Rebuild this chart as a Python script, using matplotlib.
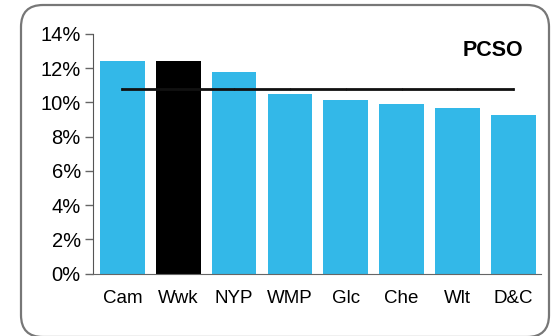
import matplotlib
matplotlib.use("Agg")
import matplotlib.pyplot as plt
from matplotlib.patches import FancyBboxPatch
from matplotlib.transforms import IdentityTransform
from matplotlib.ticker import FuncFormatter

# data
areas = ["Cam", "Wwk", "NYP", "WMP", "Glc", "Che", "Wlt", "D&C"]
rates = [12.42, 12.42, 11.78, 10.5, 10.15, 9.91, 9.68, 9.27]
average = 10.77
highlight = "Wwk"

plt.rcParams['font.family'] = ['Liberation Sans', 'DejaVu Sans']

fig = plt.figure(figsize=(5.53, 3.36), dpi=100)
ax = fig.add_axes([0.1687, 0.186, 0.809, 0.713])

colors = ['#000000' if a == highlight else '#33b8e8' for a in areas]
x = range(len(areas))
ax.bar(x, rates, width=0.8, color=colors, zorder=2)
ax.plot(x, [average] * len(areas), color='#111111', lw=2, zorder=3,
        marker='|', markersize=2, markeredgewidth=0.8)

ax.set_xlim(-0.52, 7.49)
ax.set_ylim(0, 14)
ax.set_yticks(range(0, 15, 2))
ax.yaxis.set_major_formatter(FuncFormatter(lambda v, p: f"{v:.0f}%"))
ax.set_xticks(list(x))
ax.set_xticklabels(areas, fontsize=13.5)
ax.tick_params(axis='y', labelsize=14.5, length=6, width=1, color='#666666', pad=3)
ax.tick_params(axis='x', length=0, pad=12)

for side in ['top', 'right']:
    ax.spines[side].set_visible(False)
ax.spines['left'].set_color('#555555')
ax.spines['bottom'].set_color('#666666')

ax.text(0.962, 0.93, "PCSO", transform=ax.transAxes, ha='right', va='center',
        fontsize=15.5, fontweight='bold')

# rounded frame round the whole chart
frame = FancyBboxPatch((21, -1), 528, 332, boxstyle="round,pad=0,rounding_size=22",
                       transform=IdentityTransform(), fill=False,
                       edgecolor='#777777', lw=1.6)
fig.patches.append(frame)

fig.savefig("out.png", dpi=100)
